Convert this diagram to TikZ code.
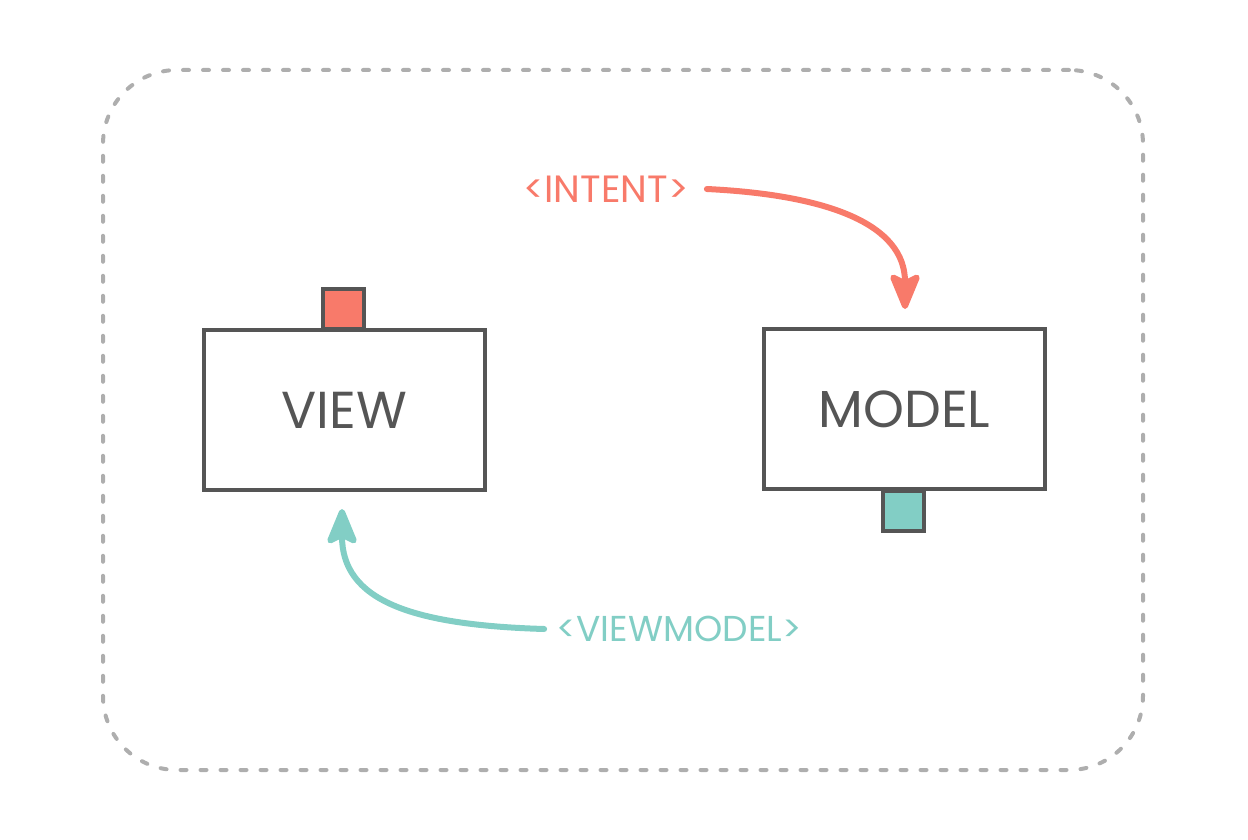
\documentclass[tikz,border=0pt]{standalone}
\usepackage{fontspec}
\setmainfont{Poppins}
\usetikzlibrary{arrows.meta}
\definecolor{ink}{HTML}{555555}
\definecolor{redc}{HTML}{F87A6A}
\definecolor{tealc}{HTML}{82CEC5}
\definecolor{framec}{HTML}{AEAEAE}
\tikzset{
  box/.style={draw=ink, line width=2pt, fill=white, minimum width=140.5pt, minimum height=80pt, inner sep=0pt, text=ink, font=\fontsize{26}{30}\selectfont},
  tab/.style={draw=ink, line width=2pt, minimum width=20.5pt, minimum height=20pt, inner sep=0pt},
  frame/.style={draw=framec, line width=2pt, dash pattern=on 3pt off 7pt, line cap=round, rounded corners=37pt, minimum width=520pt, minimum height=350pt},
  lbl/.style={font=\fontsize{19}{22}\selectfont, inner sep=0pt},
  flow/.style={line width=3pt, line cap=round, -{Stealth[length=21pt, width=17pt, inset=4pt, round]}}
}
\begin{document}
\begin{tikzpicture}[x=0.5pt,y=-0.5pt]
\useasboundingbox (0,0) rectangle (1248,840);
\node[frame] (frame) at (623,420) {};
\node[tab, fill=redc, anchor=south] (vtab) at (343.5,331) {};
\node[box] (view) at (344.5,410) {VIEW};
\node[tab, fill=tealc, anchor=north] (mtab) at (903,489) {};
\node[box] (model) at (904.5,409) {MODEL};
\node[lbl, text=redc] (intent) at (606,189) {<INTENT>};
\node[lbl, text=tealc, font=\fontsize{18}{22}\selectfont] (vm) at (679,629) {<VIEWMODEL>};
\coordinate (itip) at (905,309);
\coordinate (vtip) at (342,509);
\draw[flow, draw=redc] ([xshift=9pt]intent.east) .. controls (830,195) and (905,225) .. (itip);
\draw[flow, draw=tealc] ([xshift=-6pt]vm.west) .. controls (410,625) and (342,600) .. (vtip);
\end{tikzpicture}
\end{document}
